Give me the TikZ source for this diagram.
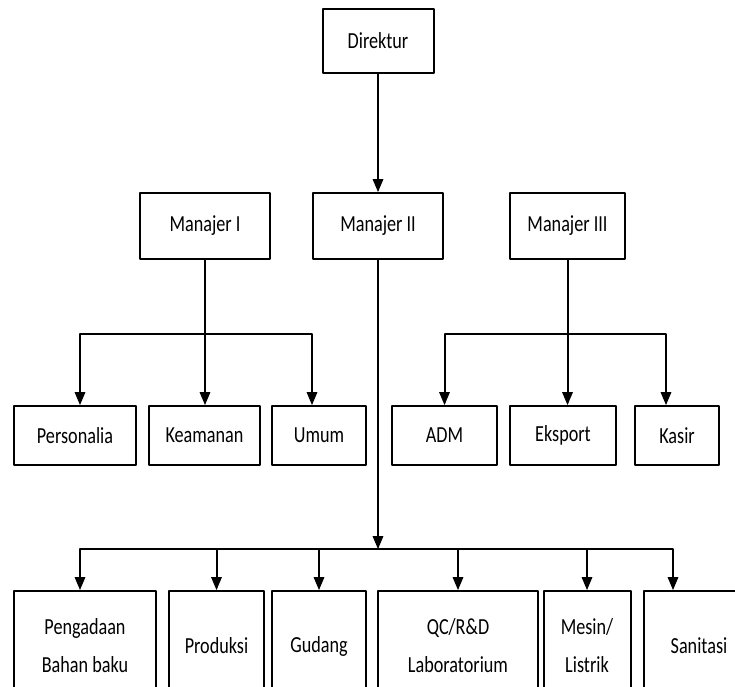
\documentclass[tikz,border=0pt]{standalone}
\usepackage{fontspec}
\setmainfont[FakeStretch=0.79]{Carlito}
\usetikzlibrary{arrows}

\begin{document}
\begin{tikzpicture}[line cap=round,line join=round,>=triangle 45,x=1.0pt,y=-1.0pt,
    kotak/.style={draw,line width=2pt,inner sep=0pt,align=center,font=\fontsize{23}{38}\selectfont},
    garis/.style={line width=2pt}]
      \useasboundingbox (0,0) rectangle (735,686);
      \clip (0,0) rectangle (735,686);
      % direktur dan manajer
      \node[kotak,minimum width=111pt,minimum height=64pt] (dir) at (378,41) {Direktur};
      \node[kotak,minimum width=130pt,minimum height=66pt] (m1) at (205,226) {Manajer I};
      \node[kotak,minimum width=130pt,minimum height=66pt] (m2) at (378,226) {Manajer II};
      \node[kotak,minimum width=115pt,minimum height=66pt] (m3) at (567.5,226) {Manajer III};
      % bagian di bawah manajer I dan III
      \node[kotak,minimum width=122pt,minimum height=59pt] (ps) at (75,435.5) {Personalia};
      \node[kotak,minimum width=111pt,minimum height=59pt] (ke) at (204.5,435.5) {Keamanan};
      \node[kotak,minimum width=94pt,minimum height=59pt] (um) at (319,435.5) {Umum};
      \node[kotak,minimum width=105pt,minimum height=59pt] (ad) at (444.5,435.5) {ADM};
      \node[kotak,minimum width=106pt,minimum height=59pt] (ek) at (563,435.5) {Eksport};
      \node[kotak,minimum width=84pt,minimum height=59pt] (ks) at (677,435.5) {Kasir};
      % bagian di bawah manajer II
      \node[kotak,minimum width=142pt,minimum height=110pt] (pg) at (85,646) {Pengadaan\\Bahan baku};
      \node[kotak,minimum width=95pt,minimum height=110pt] (pr) at (216.5,646) {Produksi};
      \node[kotak,minimum width=94pt,minimum height=110pt] (gd) at (319,646) {Gudang};
      \node[kotak,minimum width=160pt,minimum height=110pt] (qc) at (458,646) {QC/R\&D\\Laboratorium};
      \node[kotak,minimum width=87pt,minimum height=110pt] (ms) at (587,646) {Mesin/\\Listrik};
      \node[kotak,minimum width=110pt,minimum height=110pt] (sn) at (699,646) {Sanitasi};
      % garis
      \coordinate (j1) at (205,334);
      \coordinate (j2) at (567.5,334);
      \coordinate (j3) at (378,549);
      \draw[garis,->] (dir) -- (m2);
      \draw[garis,->] (m1.south) -- (m1.south |- ke.north);
      \draw[garis,<->] ([xshift=5pt]ps.north) |- (j1) -| ([xshift=-7pt]um.north);
      \draw[garis,->] (m3.south) -- (m3.south |- ek.north);
      \draw[garis,<->] (ad.north) |- (j2) -| ([xshift=-11pt]ks.north);
      \draw[garis,->] (m2.south) -- (j3);
      \draw[garis,<->] ([xshift=-5pt]pg.north) |- (j3) -| ([xshift=-26pt]sn.north);
      \foreach \b in {pr,gd,qc,ms}
      \draw[garis,->] (\b.north |- j3) -- (\b.north);
\end{tikzpicture}
\end{document}
